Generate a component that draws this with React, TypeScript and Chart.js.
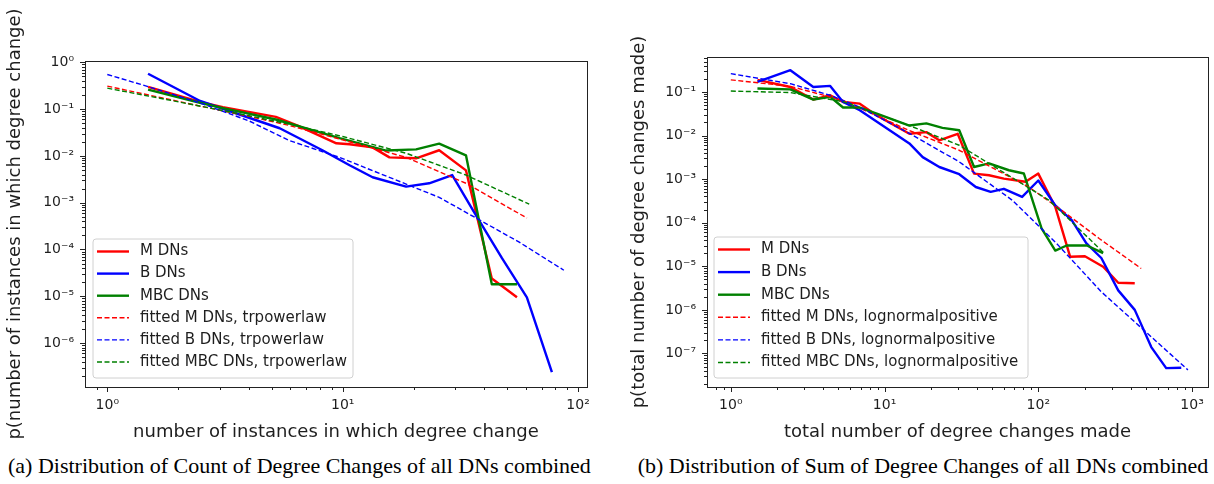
import React, { useEffect, useRef } from 'react';
import { Chart, registerables } from 'chart.js';
Chart.register(...registerables);

// ---------- Panel (a): count of degree changes ----------
const M_CNT_X = [1.49, 2.5, 3.1, 5.2, 6.4, 9.4, 10.7, 13.4, 15.8, 20.5, 25.7, 33.4, 43, 55];
const M_CNT_Y = [0.3, 0.14, 0.11, 0.068, 0.045, 0.0186, 0.0177, 0.0152, 0.0093, 0.0089, 0.0132, 0.0049, 2.4e-5, 9.5e-6];
const B_CNT_X = [1.49, 2.48, 5.4, 8.2, 10.7, 13.4, 18.6, 23.3, 29.2, 36, 47.5, 60.6, 77.4];
const B_CNT_Y = [0.57, 0.149, 0.039, 0.0132, 0.0063, 0.0035, 0.0022, 0.0026, 0.0039, 6.5e-4, 6.5e-5, 9.5e-6, 2.4e-7];
const MBC_CNT_X = [1.49, 2.5, 3.1, 5.2, 9.7, 15.3, 20.5, 25.7, 33.4, 43, 55];
const MBC_CNT_Y = [0.26, 0.135, 0.105, 0.06, 0.024, 0.013, 0.0138, 0.0183, 0.0103, 1.8e-5, 1.8e-5];
const FIT_M_CNT_X = [1, 1.5, 2.5, 4, 5.9, 10, 18.6, 33.4, 60.6];
const FIT_M_CNT_Y = [0.31, 0.2, 0.115, 0.07, 0.045, 0.022, 0.0093, 0.0026, 4.7e-4];
const FIT_B_CNT_X = [1, 1.5, 2.5, 4, 5.9, 9.7, 25.7, 56, 87];
const FIT_B_CNT_Y = [0.55, 0.3, 0.133, 0.056, 0.0215, 0.0093, 0.0013, 1.45e-4, 3.6e-5];
const FIT_MBC_CNT_X = [1, 1.5, 2.5, 4, 5.9, 10, 18.6, 33.4, 62];
const FIT_MBC_CNT_Y = [0.28, 0.19, 0.115, 0.072, 0.048, 0.026, 0.0114, 0.0039, 9.3e-4];

// ---------- Panel (b): sum of degree changes ----------
const M_SUM_X = [1.49, 2.44, 3.44, 4.43, 5.37, 6.9, 8.9, 14.5, 18.7, 22.7, 29.9, 38.2, 47.8, 59.7, 82.6, 100, 129, 161, 201, 264, 331, 424];
const M_SUM_Y = [0.19, 0.13, 0.067, 0.084, 0.059, 0.054, 0.029, 0.011, 0.012, 0.0078, 0.011, 0.00134, 0.00123, 0.00103, 8.7e-4, 0.00134, 2.3e-4, 1.66e-5, 1.7e-5, 9.8e-6, 4.2e-6, 4.1e-6];
const B_SUM_X = [1.49, 2.44, 3.44, 4.43, 5.37, 6.9, 14.5, 17.7, 22.7, 30.6, 39.2, 49, 59.7, 78.5, 100, 129, 165, 205, 257, 331, 424, 543, 679, 851];
const B_SUM_Y = [0.17, 0.316, 0.13, 0.138, 0.059, 0.038, 0.0066, 0.0032, 0.0019, 0.0013, 6.6e-4, 5.1e-4, 6.0e-4, 3.9e-4, 9.3e-4, 2.5e-4, 1.15e-4, 3.4e-5, 1.55e-5, 2.8e-6, 1.0e-6, 1.4e-7, 4.6e-8, 4.7e-8];
const MBC_SUM_X = [1.49, 2.44, 3.44, 4.43, 5.37, 6.9, 8.9, 14.5, 18.7, 23.8, 30.6, 38.2, 47.8, 64.4, 80.5, 105, 129, 153, 207, 264];
const MBC_SUM_Y = [0.12, 0.115, 0.067, 0.077, 0.044, 0.044, 0.032, 0.017, 0.019, 0.015, 0.0132, 0.0019, 0.0023, 0.0016, 0.00135, 7.4e-5, 2.3e-5, 3.0e-5, 3.0e-5, 2.0e-5];
const FIT_M_SUM_X = [1, 2.44, 5.37, 14.5, 30.6, 86.7, 135, 250, 467];
const FIT_M_SUM_Y = [0.19, 0.135, 0.064, 0.013, 0.0046, 6.6e-4, 2.2e-4, 4.3e-5, 8.9e-6];
const FIT_B_SUM_X = [1, 2.44, 4.43, 6.9, 14.5, 30.6, 67.6, 130, 257, 940];
const FIT_B_SUM_Y = [0.264, 0.155, 0.084, 0.045, 0.0112, 0.0025, 3.3e-4, 3.5e-5, 2.6e-6, 4.2e-8];
const FIT_MBC_SUM_X = [1, 2.44, 5.37, 14.5, 30.6, 117, 150, 264];
const FIT_MBC_SUM_Y = [0.105, 0.097, 0.06, 0.017, 0.006, 3.3e-4, 1.45e-4, 2.1e-5];

// ---------- Labels & ticks ----------
const SERIES_LABELS_A = ['M DNs', 'B DNs', 'MBC DNs', 'fitted M DNs, trpowerlaw', 'fitted B DNs, trpowerlaw', 'fitted MBC DNs, trpowerlaw'];
const SERIES_LABELS_B = ['M DNs', 'B DNs', 'MBC DNs', 'fitted M DNs, lognormalpositive', 'fitted B DNs, lognormalpositive', 'fitted MBC DNs, lognormalpositive'];

const A_X_TICKS = [1, 10, 100];
const A_X_TICK_LABELS = ['10⁰', '10¹', '10²'];
const A_Y_TICKS = [1, 1e-1, 1e-2, 1e-3, 1e-4, 1e-5, 1e-6];
const A_Y_TICK_LABELS = ['10⁰', '10⁻¹', '10⁻²', '10⁻³', '10⁻⁴', '10⁻⁵', '10⁻⁶'];
const B_X_TICKS = [1, 10, 100, 1000];
const B_X_TICK_LABELS = ['10⁰', '10¹', '10²', '10³'];
const B_Y_TICKS = [1e-1, 1e-2, 1e-3, 1e-4, 1e-5, 1e-6, 1e-7];
const B_Y_TICK_LABELS = ['10⁻¹', '10⁻²', '10⁻³', '10⁻⁴', '10⁻⁵', '10⁻⁶', '10⁻⁷'];

const A_X_RANGE = [0.804, 109];
const A_Y_RANGE = [1.15e-7, 1.067];
const B_X_RANGE = [0.706, 1270];
const B_Y_RANGE = [1.7e-8, 0.635];

const COLORS = ['#ff0000', '#0000ff', '#008000', '#ff0000', '#0000ff', '#008000'];
const FONT = '"DejaVu Sans", sans-serif';
const TEXT = '#1e1e1e';

function logTicks(min: number, max: number) {
  const out: any[] = [];
  const lo = Math.floor(Math.log10(min));
  const hi = Math.ceil(Math.log10(max));
  for (let e = lo; e <= hi; e++) {
    for (let k = 1; k <= 9; k++) {
      const v = k * Math.pow(10, e);
      if (v >= min && v <= max) out.push({ value: v, major: k === 1 });
    }
  }
  return out;
}

function labelFor(v: number, majors: number[], labels: string[]) {
  const lv = Math.log10(v);
  for (let i = 0; i < majors.length; i++) {
    if (Math.abs(Math.log10(majors[i]) - lv) < 1e-6) return labels[i];
  }
  return '';
}

const frameTicksPlugin = {
  id: 'frameTicks',
  afterDraw(chart: any) {
    const { ctx, chartArea: a } = chart;
    const xs = chart.scales.x;
    const ys = chart.scales.y;
    ctx.save();
    ctx.strokeStyle = '#222';
    ctx.lineWidth = 1;
    ctx.beginPath();
    xs.ticks.forEach((t: any) => {
      const px = Math.round(xs.getPixelForValue(t.value)) + 0.5;
      const len = t.major ? 5 : 3;
      ctx.moveTo(px, a.bottom);
      ctx.lineTo(px, a.bottom + len);
    });
    ys.ticks.forEach((t: any) => {
      const py = Math.round(ys.getPixelForValue(t.value)) + 0.5;
      const len = t.major ? 5 : 3;
      ctx.moveTo(a.left, py);
      ctx.lineTo(a.left - len, py);
    });
    ctx.stroke();
    ctx.strokeRect(Math.round(a.left) + 0.5, Math.round(a.top) + 0.5, Math.round(a.right - a.left), Math.round(a.bottom - a.top));
    ctx.restore();
  },
};

const boxLegendPlugin = {
  id: 'boxLegend',
  afterDatasetsDraw(chart: any, _args: any, opts: any) {
    const { ctx, chartArea: a } = chart;
    const x0 = a.left + opts.dx;
    const y1 = a.bottom - opts.dyBottom;
    const y0 = y1 - opts.h;
    const w = opts.w;
    const r = 3;
    ctx.save();
    ctx.beginPath();
    ctx.moveTo(x0 + r, y0);
    ctx.lineTo(x0 + w - r, y0);
    ctx.quadraticCurveTo(x0 + w, y0, x0 + w, y0 + r);
    ctx.lineTo(x0 + w, y1 - r);
    ctx.quadraticCurveTo(x0 + w, y1, x0 + w - r, y1);
    ctx.lineTo(x0 + r, y1);
    ctx.quadraticCurveTo(x0, y1, x0, y1 - r);
    ctx.lineTo(x0, y0 + r);
    ctx.quadraticCurveTo(x0, y0, x0 + r, y0);
    ctx.closePath();
    ctx.fillStyle = 'rgba(255,255,255,0.8)';
    ctx.fill();
    ctx.strokeStyle = '#d0d0d0';
    ctx.lineWidth = 1;
    ctx.stroke();
    chart.data.datasets.forEach((ds: any, i: number) => {
      const cy = y0 + opts.firstRow + i * opts.rowH;
      ctx.beginPath();
      ctx.strokeStyle = ds.borderColor;
      ctx.lineWidth = ds.borderWidth;
      ctx.setLineDash(ds.borderDash || []);
      ctx.moveTo(x0 + 4, cy);
      ctx.lineTo(x0 + 36, cy);
      ctx.stroke();
      ctx.setLineDash([]);
      ctx.fillStyle = TEXT;
      ctx.font = '15px ' + FONT;
      ctx.textBaseline = 'middle';
      ctx.textAlign = 'left';
      ctx.fillText(ds.label, x0 + 47, cy);
    });
    ctx.restore();
  },
};

function makeDatasets(labels: string[], xs: number[][], ys: number[][]) {
  return labels.map((label, i) => {
    const dashed = i >= 3;
    return {
      label,
      data: xs[i].map((x, j) => ({ x, y: ys[i][j] })),
      borderColor: COLORS[i],
      backgroundColor: COLORS[i],
      borderWidth: dashed ? 1.4 : 2.4,
      borderDash: dashed ? [5, 2.5] : [],
      borderJoinStyle: 'round',
      showLine: true,
      pointRadius: 0,
      pointHoverRadius: 0,
      tension: 0,
      fill: false,
      order: 10 - i,
    };
  });
}

function makeConfig(p: any) {
  return {
    type: 'scatter',
    data: { datasets: makeDatasets(p.labels, p.xs, p.ys) },
    options: {
      responsive: false,
      animation: false,
      devicePixelRatio: 1,
      layout: { padding: { top: p.padTop, right: p.padRight, left: 0, bottom: 0 } },
      plugins: {
        legend: { display: false },
        tooltip: { enabled: false },
        boxLegend: p.legend,
      },
      scales: {
        x: {
          type: 'logarithmic',
          min: p.xRange[0],
          max: p.xRange[1],
          grid: { display: false, drawTicks: false },
          border: { display: false },
          afterBuildTicks: (s: any) => { s.ticks = logTicks(p.xRange[0], p.xRange[1]); },
          afterFit: (s: any) => { s.height = p.xAxisH; },
          ticks: {
            autoSkip: false,
            maxRotation: 0,
            padding: 10,
            color: TEXT,
            font: { family: FONT, size: 14 },
            callback: (v: number) => labelFor(v, p.xTicks, p.xTickLabels),
          },
          title: {
            display: true,
            text: p.xTitle,
            color: TEXT,
            font: { family: FONT, size: 18 },
            padding: { top: 0, bottom: 9 },
          },
        },
        y: {
          type: 'logarithmic',
          min: p.yRange[0],
          max: p.yRange[1],
          grid: { display: false, drawTicks: false },
          border: { display: false },
          afterBuildTicks: (s: any) => { s.ticks = logTicks(p.yRange[0], p.yRange[1]); },
          afterFit: (s: any) => { s.width = p.yAxisW; },
          ticks: {
            autoSkip: false,
            padding: 11,
            color: TEXT,
            font: { family: FONT, size: 14 },
            callback: (v: number) => labelFor(v, p.yTicks, p.yTickLabels),
          },
          title: {
            display: true,
            text: p.yTitle,
            color: TEXT,
            font: { family: FONT, size: 18 },
            padding: { top: p.yTitlePad, bottom: 0 },
          },
        },
      },
    },
    plugins: [frameTicksPlugin, boxLegendPlugin],
  };
}

const PANEL_A = {
  labels: SERIES_LABELS_A,
  xs: [M_CNT_X, B_CNT_X, MBC_CNT_X, FIT_M_CNT_X, FIT_B_CNT_X, FIT_MBC_CNT_X],
  ys: [M_CNT_Y, B_CNT_Y, MBC_CNT_Y, FIT_M_CNT_Y, FIT_B_CNT_Y, FIT_MBC_CNT_Y],
  xRange: A_X_RANGE,
  yRange: A_Y_RANGE,
  xTicks: A_X_TICKS,
  xTickLabels: A_X_TICK_LABELS,
  yTicks: A_Y_TICKS,
  yTickLabels: A_Y_TICK_LABELS,
  xTitle: 'number of instances in which degree change',
  yTitle: 'p(number of instances in which degree change)',
  padTop: 61,
  padRight: 12,
  xAxisH: 65,
  yAxisW: 85,
  yTitlePad: 5,
  legend: { dx: 8, dyBottom: 9, w: 260, h: 139, firstRow: 12.5, rowH: 22.1 },
};

const PANEL_B = {
  labels: SERIES_LABELS_B,
  xs: [M_SUM_X, B_SUM_X, MBC_SUM_X, FIT_M_SUM_X, FIT_B_SUM_X, FIT_MBC_SUM_X],
  ys: [M_SUM_Y, B_SUM_Y, MBC_SUM_Y, FIT_M_SUM_Y, FIT_B_SUM_Y, FIT_MBC_SUM_Y],
  xRange: B_X_RANGE,
  yRange: B_Y_RANGE,
  xTicks: B_X_TICKS,
  xTickLabels: B_X_TICK_LABELS,
  yTicks: B_Y_TICKS,
  yTickLabels: B_Y_TICK_LABELS,
  xTitle: 'total number of degree changes made',
  yTitle: 'p(total number of degree changes made)',
  padTop: 57,
  padRight: 6,
  xAxisH: 65,
  yAxisW: 107,
  yTitlePad: 29,
  legend: { dx: 7, dyBottom: 9, w: 314, h: 141, firstRow: 12.5, rowH: 22.6 },
};

export default function App() {
  const leftRef = useRef<HTMLCanvasElement>(null);
  const rightRef = useRef<HTMLCanvasElement>(null);

  useEffect(() => {
    const c1 = new Chart(leftRef.current as HTMLCanvasElement, makeConfig(PANEL_A) as any);
    const c2 = new Chart(rightRef.current as HTMLCanvasElement, makeConfig(PANEL_B) as any);
    return () => {
      c1.destroy();
      c2.destroy();
    };
  }, []);

  const capStyle: React.CSSProperties = {
    position: 'absolute',
    top: 453,
    height: 26,
    lineHeight: '26px',
    fontFamily: '"Liberation Serif", "Times New Roman", serif',
    fontSize: 22,
    color: '#000',
    textAlign: 'center',
    whiteSpace: 'nowrap',
  };

  return (
    <div style={{ position: 'fixed', left: 0, top: 0, width: 1214, height: 484, background: '#fff', overflow: 'hidden' }}>
      <canvas ref={leftRef} width={600} height={452} style={{ position: 'absolute', left: 0, top: 0, display: 'block' }} />
      <canvas ref={rightRef} width={614} height={452} style={{ position: 'absolute', left: 600, top: 0, display: 'block' }} />
      <div style={{ ...capStyle, left: 8, width: 580 }}>(a) Distribution of Count of Degree Changes of all DNs combined</div>
      <div style={{ ...capStyle, left: 636, width: 574 }}>(b) Distribution of Sum of Degree Changes of all DNs combined</div>
    </div>
  );
}
